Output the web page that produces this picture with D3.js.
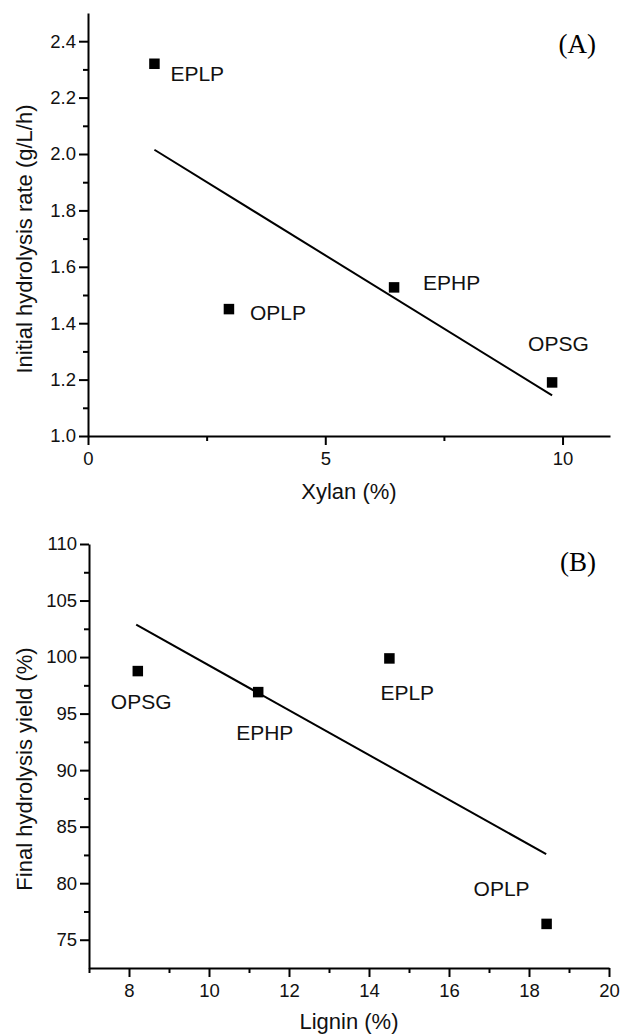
<!DOCTYPE html>
<html>
<head>
<meta charset="utf-8">
<script src="https://cdn.jsdelivr.net/npm/d3@7"></script>
<style>
  html, body { margin: 0; padding: 0; background: #fff; }
  svg { display: block; }
  .tick text { font-family: "Liberation Sans", Arial, sans-serif; }
</style>
</head>
<body>
<div id="chart"></div>
<script>
// ---- data ----
const samplesA = ["EPLP", "OPLP", "EPHP", "OPSG"]
const xylan = [1.40, 2.97, 6.45, 9.78]           // Xylan (%)
const rate = [2.32, 1.45, 1.527, 1.19]           // Initial hydrolysis rate (g/L/h)
const fitAx = [1.40, 9.78]                       // fitted line ends
const fitAy = [2.015, 1.144]

const samplesB = ["OPSG", "EPHP", "EPLP", "OPLP"]
const lignin = [8.22, 11.23, 14.51, 18.44]       // Lignin (%)
const yieldB = [98.76, 96.9, 99.88, 76.4]        // Final hydrolysis yield (%)
const fitBx = [8.18, 18.43]
const fitBy = [102.86, 82.57]

const xTicksA = [0, 5, 10]
const xMinorA = [2.5, 7.5]
const yTicksA = [1.0, 1.2, 1.4, 1.6, 1.8, 2.0, 2.2, 2.4]
const yMinorA = [1.1, 1.3, 1.5, 1.7, 1.9, 2.1, 2.3]

const xTicksB = [8, 10, 12, 14, 16, 18, 20]
const xMinorB = [7, 9, 11, 13, 15, 17, 19]
const yTicksB = [75, 80, 85, 90, 95, 100, 105, 110]
const yMinorB = [77.5, 82.5, 87.5, 92.5, 97.5, 102.5, 107.5]

// ---- layout ----
const width = 621
const height = 1034
const sans = "'Liberation Sans', Arial, sans-serif"
const serif = "'Liberation Serif', 'Times New Roman', serif"
const tickFont = 18.5
const labelFont = 21
const titleFont = 22
const majorLen = 9
const minorLen = 5
const sq = 10.5          // marker size

// label offsets from marker centre, in pixels
const offA = [[16, 17], [21, 11], [29, 3], [-24, -31]]
const offB = [[-27, 38], [-22, 48], [-9, 42], [-73, -28]]

const svg = d3.select("#chart")
    .append("svg")
    .attr("width", width)
    .attr("height", height)
    .attr("viewBox", [0, 0, width, height])

function panel(opt) {
    const x = d3.scaleLinear(opt.xDomain, opt.xRange)
    const y = d3.scaleLinear(opt.yDomain, opt.yRange)
    const x0 = opt.xRange[0]
    const yBase = opt.yRange[0]
    const g = svg.append("g")

    // minor ticks
    g.append("g")
        .attr("transform", `translate(0,${yBase})`)
        .call(d3.axisBottom(x).tickValues(opt.xMinor).tickSize(minorLen).tickFormat(""))
        .call(a => a.select(".domain").remove())
    g.append("g")
        .attr("transform", `translate(${x0},0)`)
        .call(d3.axisLeft(y).tickValues(opt.yMinor).tickSize(minorLen).tickFormat(""))
        .call(a => a.select(".domain").remove())

    // major axes
    g.append("g")
        .attr("transform", `translate(0,${yBase})`)
        .call(d3.axisBottom(x).tickValues(opt.xTicks).tickSize(majorLen).tickSizeOuter(0)
            .tickPadding(7).tickFormat(opt.xFormat))
        .call(a => a.selectAll("text").attr("font-size", tickFont).attr("fill", "#111"))
    g.append("g")
        .attr("transform", `translate(${x0},0)`)
        .call(d3.axisLeft(y).tickValues(opt.yTicks).tickSize(majorLen).tickSizeOuter(0)
            .tickPadding(3).tickFormat(opt.yFormat))
        .call(a => a.selectAll("text").attr("font-size", tickFont).attr("fill", "#111"))

    g.selectAll(".domain").attr("stroke-width", 2).attr("stroke", "#000")
    g.selectAll(".tick line").attr("stroke-width", 2).attr("stroke", "#000")

    // fitted line
    g.append("line")
        .attr("x1", x(opt.fitX[0])).attr("y1", y(opt.fitY[0]))
        .attr("x2", x(opt.fitX[1])).attr("y2", y(opt.fitY[1]))
        .attr("stroke", "#000")
        .attr("stroke-width", 2)

    // markers
    const I = d3.range(opt.X.length)
    g.append("g").selectAll("rect")
        .data(I)
        .join("rect")
        .attr("x", i => x(opt.X[i]) - sq / 2)
        .attr("y", i => y(opt.Y[i]) - sq / 2)
        .attr("width", sq)
        .attr("height", sq)
        .attr("fill", "#000")

    g.append("g").selectAll("text")
        .data(I)
        .join("text")
        .attr("x", i => x(opt.X[i]) + opt.off[i][0])
        .attr("y", i => y(opt.Y[i]) + opt.off[i][1])
        .attr("font-family", sans)
        .attr("font-size", labelFont)
        .attr("fill", "#111")
        .text(i => opt.names[i])

    // axis titles
    g.append("text")
        .attr("x", (opt.xRange[0] + opt.xRange[1]) / 2)
        .attr("y", opt.xTitleY)
        .attr("text-anchor", "middle")
        .attr("font-family", sans)
        .attr("font-size", titleFont)
        .attr("fill", "#111")
        .text(opt.xTitle)
    g.append("text")
        .attr("transform", `translate(32,${opt.yTitleC}) rotate(-90)`)
        .attr("text-anchor", "middle")
        .attr("font-family", sans)
        .attr("font-size", titleFont)
        .attr("fill", "#111")
        .text(opt.yTitle)

    // panel letter
    g.append("text")
        .attr("x", 596)
        .attr("y", opt.letterY)
        .attr("text-anchor", "end")
        .attr("font-family", serif)
        .attr("font-size", 27)
        .attr("fill", "#000")
        .text(opt.letter)
}

panel({
    xDomain: [0, 11], xRange: [88, 610],
    yDomain: [1.0, 2.5], yRange: [436, 13],
    xTicks: xTicksA, xMinor: xMinorA, yTicks: yTicksA, yMinor: yMinorA,
    xFormat: d3.format("d"), yFormat: d3.format(".1f"),
    X: xylan, Y: rate, names: samplesA, off: offA,
    fitX: fitAx, fitY: fitAy,
    xTitle: "Xylan (%)", xTitleY: 499,
    yTitle: "Initial hydrolysis rate (g/L/h)", yTitleC: 239,
    letter: "(A)", letterY: 53
})

panel({
    xDomain: [7, 20], xRange: [89, 609],
    yDomain: [72.5, 110], yRange: [968, 544],
    xTicks: xTicksB, xMinor: xMinorB, yTicks: yTicksB, yMinor: yMinorB,
    xFormat: d3.format("d"), yFormat: d3.format("d"),
    X: lignin, Y: yieldB, names: samplesB, off: offB,
    fitX: fitBx, fitY: fitBy,
    xTitle: "Lignin (%)", xTitleY: 1029,
    yTitle: "Final hydrolysis yield (%)", yTitleC: 769,
    letter: "(B)", letterY: 571
})
</script>
</body>
</html>
